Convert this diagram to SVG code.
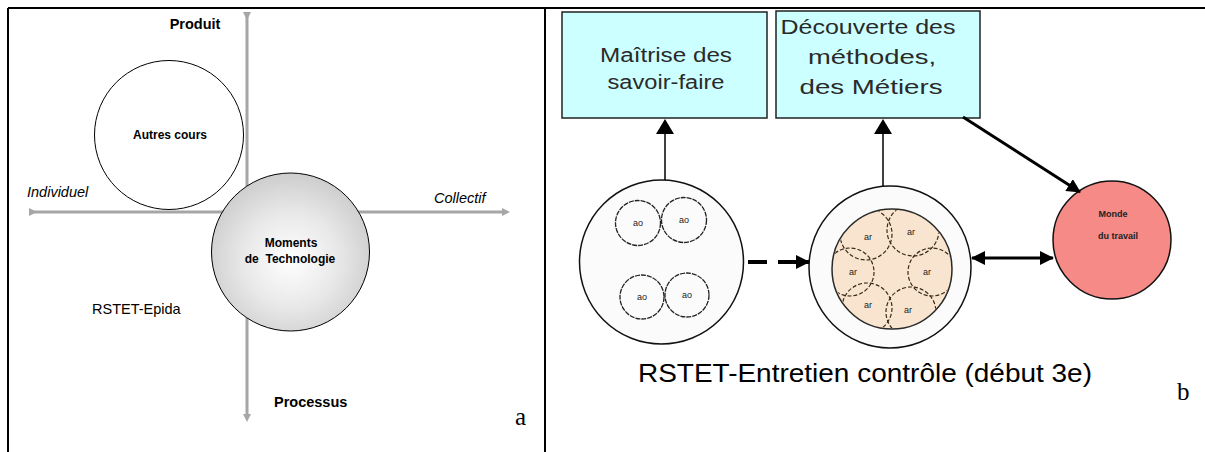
<svg xmlns="http://www.w3.org/2000/svg" width="1205" height="452" viewBox="0 0 1205 452">
<style>
.frame{stroke:#000;stroke-width:2;fill:none}
.axis{stroke:#a6a6a6;stroke-width:3;fill:none}
.lbl{font-family:"Liberation Sans",Arial,sans-serif;fill:#000}
.b{font-weight:bold}
.it{font-style:italic}
.box{fill:#ccffff;stroke:#222;stroke-width:1.5}
.btxt{font-family:"Liberation Sans",Arial,sans-serif;font-size:20px;fill:#2a2a2a;text-anchor:middle}
.con{stroke:#000;fill:none}
.small{font-family:"Liberation Sans",Arial,sans-serif;font-size:9px;fill:#222;text-anchor:middle}
.sub{fill:none;stroke:#3a2a1a;stroke-width:1.2;stroke-dasharray:4 2}
.ao{fill:none;stroke:#222;stroke-width:1.3;stroke-dasharray:5 1}
</style>
<defs>
<radialGradient id="gMom" cx="0.5" cy="0.55" r="0.55">
<stop offset="0" stop-color="#ffffff"/>
<stop offset="0.55" stop-color="#e8e8e8"/>
<stop offset="1" stop-color="#cdcdcd"/>
</radialGradient>
<clipPath id="beige"><circle cx="892" cy="269" r="59"/></clipPath>
<marker id="ga" markerWidth="8" markerHeight="8" refX="4" refY="4" orient="auto" markerUnits="userSpaceOnUse">
<path d="M0,0 L8,4 L0,8 z" fill="#a6a6a6"/>
</marker>
<marker id="ah" markerWidth="14" markerHeight="14" refX="13" refY="7" orient="auto" markerUnits="userSpaceOnUse">
<path d="M0,0 L14,7 L0,14 z" fill="#000"/>
</marker>
<marker id="ahs" markerWidth="14" markerHeight="14" refX="1" refY="7" orient="auto" markerUnits="userSpaceOnUse">
<path d="M14,0 L0,7 L14,14 z" fill="#000"/>
</marker>
</defs>
<rect width="1205" height="452" fill="#fff"/>
<g id="frame">
<line class="frame" x1="8" y1="8" x2="1205" y2="8"/>
<line class="frame" x1="8" y1="8" x2="8" y2="452"/>
<line class="frame" x1="545" y1="8" x2="545" y2="452"/>
</g>
<!-- Panel a -->
<g id="axes">
<line class="axis" x1="247" y1="16" x2="247" y2="418" marker-start="url(#ga)" marker-end="url(#ga)"/>
<line class="axis" x1="33" y1="212" x2="506" y2="212" marker-start="url(#ga)" marker-end="url(#ga)"/>
</g>
<g id="autres">
<circle cx="169" cy="135" r="74.5" fill="#fff" stroke="#000" stroke-width="1"/>
<text class="lbl b" x="170" y="139" font-size="12" text-anchor="middle">Autres cours</text>
</g>
<g id="moments">
<circle cx="290.5" cy="252" r="79" fill="url(#gMom)" stroke="#000" stroke-width="1"/>
<text class="lbl b" x="291" y="247" font-size="12" text-anchor="middle">Moments</text>
<text class="lbl b" x="290" y="263" font-size="12" text-anchor="middle" xml:space="preserve">de  Technologie</text>
</g>
<g id="labels-a">
<text class="lbl b" x="195" y="29" font-size="14.5" text-anchor="middle">Produit</text>
<text class="lbl it" x="27" y="197" font-size="14.5">Individuel</text>
<text class="lbl it" x="434" y="203" font-size="14.5">Collectif</text>
<text class="lbl" x="92" y="314" font-size="14.5">RSTET-Epida</text>
<text class="lbl b" x="274" y="407" font-size="14.5">Processus</text>
<text x="515" y="425" font-family="Liberation Serif,Times New Roman,serif" font-size="25" fill="#000">a</text>
</g>
<!-- Panel b -->
<g id="box1">
<rect class="box" x="562" y="12" width="205" height="106"/>
<text class="btxt" x="666" y="62" textLength="132" lengthAdjust="spacingAndGlyphs">Maîtrise des</text>
<text class="btxt" x="666" y="89" textLength="117" lengthAdjust="spacingAndGlyphs">savoir-faire</text>
</g>
<g id="box2">
<rect class="box" x="776" y="11" width="204" height="107"/>
<text class="btxt" x="868" y="34" textLength="175" lengthAdjust="spacingAndGlyphs">Découverte des</text>
<text class="btxt" x="872" y="64" textLength="128" lengthAdjust="spacingAndGlyphs">méthodes,</text>
<text class="btxt" x="871" y="94" textLength="143" lengthAdjust="spacingAndGlyphs">des Métiers</text>
</g>
<g id="circle1">
<circle cx="661.5" cy="262" r="82" fill="#fbfbfb" stroke="#111" stroke-width="1.5"/>
<circle class="ao" cx="638" cy="223" r="22.5"/>
<circle class="ao" cx="684" cy="220" r="22.5"/>
<circle class="ao" cx="642" cy="297" r="22"/>
<circle class="ao" cx="687" cy="295" r="22"/>
<text class="small" x="638" y="226">ao</text>
<text class="small" x="684" y="223">ao</text>
<text class="small" x="642" y="300">ao</text>
<text class="small" x="687" y="298">ao</text>
</g>
<g id="circle2">
<circle cx="890" cy="267" r="81" fill="#fbfbfb" stroke="#111" stroke-width="1.5"/>
<circle cx="892" cy="269" r="60" fill="#f9e5cf"/>
<g clip-path="url(#beige)">
<circle class="sub" cx="866" cy="234" r="26"/>
<circle class="sub" cx="913" cy="230" r="26"/>
<circle class="sub" cx="850" cy="272" r="24"/>
<circle class="sub" cx="932" cy="272" r="24"/>
<circle class="sub" cx="867" cy="308" r="25"/>
<circle class="sub" cx="911" cy="312" r="25"/>
</g>
<circle cx="892" cy="269" r="60" fill="none" stroke="#2a2a2a" stroke-width="1.5"/>
<text class="small" x="868" y="240">ar</text>
<text class="small" x="911" y="235">ar</text>
<text class="small" x="853" y="275">ar</text>
<text class="small" x="927" y="275">ar</text>
<text class="small" x="868" y="308">ar</text>
<text class="small" x="908" y="313">ar</text>
</g>
<g id="monde">
<circle cx="1112" cy="240" r="59" fill="#f58a87" stroke="#111" stroke-width="1.5"/>
<text class="small" x="1113" y="217" font-size="10.5" font-weight="bold">Monde</text>
<text class="small" x="1118" y="239" font-size="10.5" font-weight="bold">du travail</text>
</g>
<g id="connectors">
<line class="con" x1="665" y1="133" x2="665" y2="180" stroke-width="1.5"/>
<path d="M665,119 L674,134 L656,134 z" fill="#000"/>
<line class="con" x1="883" y1="133" x2="883" y2="186" stroke-width="1.5"/>
<path d="M883,119 L892,134 L874,134 z" fill="#000"/>
<line class="con" x1="748" y1="262" x2="767" y2="262" stroke-width="4"/>
<line class="con" x1="778" y1="262" x2="809" y2="262" stroke-width="4" marker-end="url(#ah)"/>
<line class="con" x1="972" y1="258" x2="1053" y2="258" stroke-width="3" marker-start="url(#ahs)" marker-end="url(#ah)"/>
<line class="con" x1="963" y1="117" x2="1080" y2="192" stroke-width="3" marker-end="url(#ah)"/>
</g>
<g id="captions">
<text class="lbl" x="638" y="382" font-size="26" textLength="454" lengthAdjust="spacingAndGlyphs" fill="#111">RSTET-Entretien contrôle (début 3e)</text>
<text x="1177" y="400" font-family="Liberation Serif,Times New Roman,serif" font-size="25" fill="#000">b</text>
</g>
</svg>
